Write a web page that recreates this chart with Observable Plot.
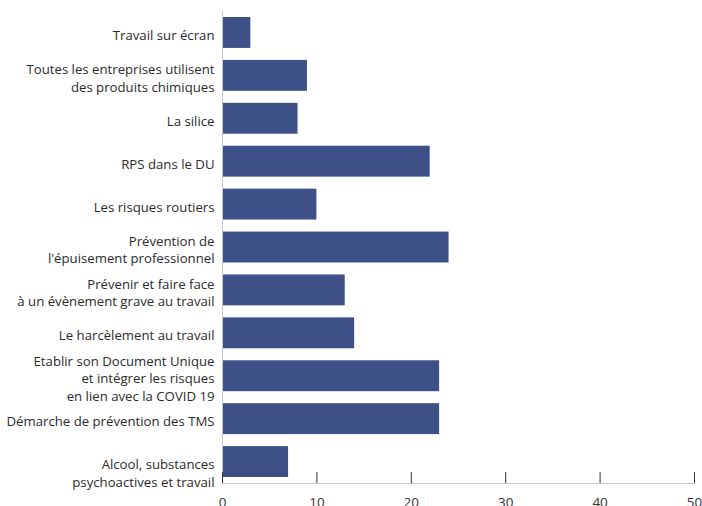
<!DOCTYPE html>
<html>
<head>
<meta charset="utf-8">
<script src="https://cdn.jsdelivr.net/npm/d3@7"></script>
<script src="https://cdn.jsdelivr.net/npm/@observablehq/plot@0.6"></script>
<style>
  html, body { margin: 0; padding: 0; background: #fff; }
  #chart svg { display: block; font-variant-ligatures: none; }
</style>
</head>
<body>
<div id="chart"></div>
<script>
const categories = [
  "Travail sur écran",
  "Toutes les entreprises utilisent\ndes produits chimiques",
  "La silice",
  "RPS dans le DU",
  "Les risques routiers",
  "Prévention de\nl'épuisement professionnel",
  "Prévenir et faire face\nà un évènement grave au travail",
  "Le harcèlement au travail",
  "Etablir son Document Unique\net intégrer les risques\nen lien avec la COVID 19",
  "Démarche de prévention des TMS",
  "\nAlcool, substances\npsychoactives et travail"
];
const values = [3, 9, 8, 22, 10, 24, 13, 14, 23, 23, 7];
const xTicks = [0, 10, 20, 30, 40, 50];

const data = categories.map((c, i) => ({category: c, value: values[i]}));

const chart = Plot.plot({
  width: 702,
  height: 506,
  marginLeft: 222,
  marginRight: 8,
  marginTop: 11,
  marginBottom: 23,
  style: {fontFamily: "'Open Sans', sans-serif", fontSize: "13.2px", color: "#333", background: "#fff"},
  x: {domain: [0, 50], ticks: xTicks},
  y: {domain: categories, paddingInner: 0.28, paddingOuter: 0.14, round: false, label: null},
  marks: [
    Plot.barX(data, {x: "value", y: "category", fill: "#3d5188"}),
    Plot.ruleX([0], {stroke: "#c8c8c8"}),
    Plot.frame({anchor: "bottom", stroke: "#c8c8c8"}),
    Plot.axisX({ticks: xTicks, tickSize: 11, dy: -11, text: null, stroke: "#333", label: null}),
    Plot.axisX({ticks: xTicks, tickSize: 0, tickPadding: 14, label: null, fontSize: 13.5, fill: "#333"}),
    Plot.axisY({tickSize: 0, tickPadding: 8, dy: 1.5, label: null, fontSize: 13.2, lineHeight: 1.32, fill: "#2b2b2b"})
  ]
});
document.getElementById("chart").appendChild(chart);
</script>
</body>
</html>
